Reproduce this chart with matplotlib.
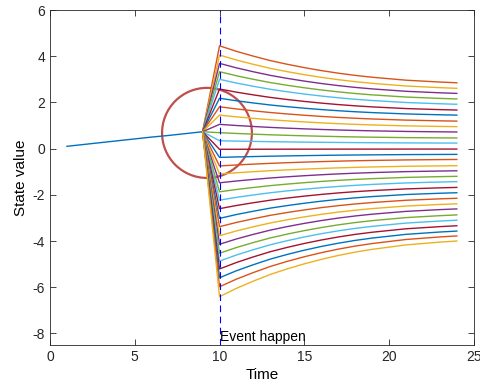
import matplotlib
matplotlib.use("Agg")
import matplotlib.pyplot as plt
from matplotlib.patches import Ellipse

plt.rcParams['font.family'] = ['Liberation Sans', 'DejaVu Sans']
plt.rcParams['axes.unicode_minus'] = False

# ---- data ----
pre_time = [1, 2, 3, 4, 5, 6, 7, 8, 9]
pre_value = [0.10, 0.18, 0.26, 0.34, 0.42, 0.50, 0.57, 0.65, 0.73]

post_time = [9, 10, 11, 12, 13, 14, 15, 16, 17, 18, 19, 20, 21, 22, 23, 24]
# value of each of the 30 branches just after the event (t=10) and at the end (t=24)
value_t10 = [4.45, 4.05, 3.69, 3.33, 3.00, 2.58, 2.18, 1.81, 1.45, 1.05,
             0.69, 0.34, -0.03, -0.38, -0.75, -1.10, -1.48, -1.87, -2.23, -2.60,
             -3.02, -3.38, -3.77, -4.14, -4.53, -4.87, -5.21, -5.59, -5.98, -6.41]
value_t24 = [2.85, 2.61, 2.39, 2.15, 1.92, 1.67, 1.45, 1.19, 0.95, 0.72,
             0.46, 0.24, -0.02, -0.25, -0.47, -0.74, -0.96, -1.20, -1.43, -1.68,
             -1.91, -2.15, -2.39, -2.61, -2.87, -3.10, -3.34, -3.57, -3.78, -4.00]
# fraction of the way from the t=10 value to the t=24 value
progress = [0.0, 0.15, 0.28, 0.40, 0.50, 0.59, 0.67, 0.74, 0.80, 0.85,
            0.89, 0.93, 0.955, 0.98, 1.0]

event_time = 10
tick_x = [0, 5, 10, 15, 20, 25]
tick_y = [-8, -6, -4, -2, 0, 2, 4, 6]

colors = [(0, 0.447, 0.741), (0.85, 0.325, 0.098), (0.929, 0.694, 0.125),
          (0.494, 0.184, 0.556), (0.466, 0.674, 0.188), (0.301, 0.745, 0.933),
          (0.635, 0.078, 0.184)]

fig = plt.figure(figsize=(4.81, 3.85), dpi=100)
ax = fig.add_axes([0.104, 0.104, 0.881, 0.870])

ax.plot(pre_time, pre_value, color=colors[0], lw=1.0)
for k, (a, b) in enumerate(zip(value_t10, value_t24), start=1):
    ys = [pre_value[-1]] + [a + (b - a) * p for p in progress]
    ax.plot(post_time, ys, color=colors[k % 7], lw=1.0)

ax.axvline(event_time, color='b', ls=(0, (6, 4)), lw=0.8)
ax.text(event_time, -8.45, 'Event happen', fontsize=10, ha='left', va='bottom')

ell = Ellipse((9.26, 0.68), width=2 * 2.65, height=2 * 1.95, fill=False,
              edgecolor=(0.75, 0.31, 0.30), lw=1.6)
ax.add_patch(ell)

ax.set_xlim(0, 25)
ax.set_ylim(-8.5, 6)
ax.set_xticks(tick_x)
ax.set_yticks(tick_y)
ax.set_xlabel('Time', fontsize=11, labelpad=3)
ax.set_ylabel('State value', fontsize=11, labelpad=3)
ax.tick_params(direction='in', top=True, right=True, labelsize=10,
               colors=(0.15, 0.15, 0.15), length=4, width=0.6)
for s in ax.spines.values():
    s.set_color((0.15, 0.15, 0.15))
    s.set_linewidth(0.6)

fig.savefig('out.png', dpi=100)
